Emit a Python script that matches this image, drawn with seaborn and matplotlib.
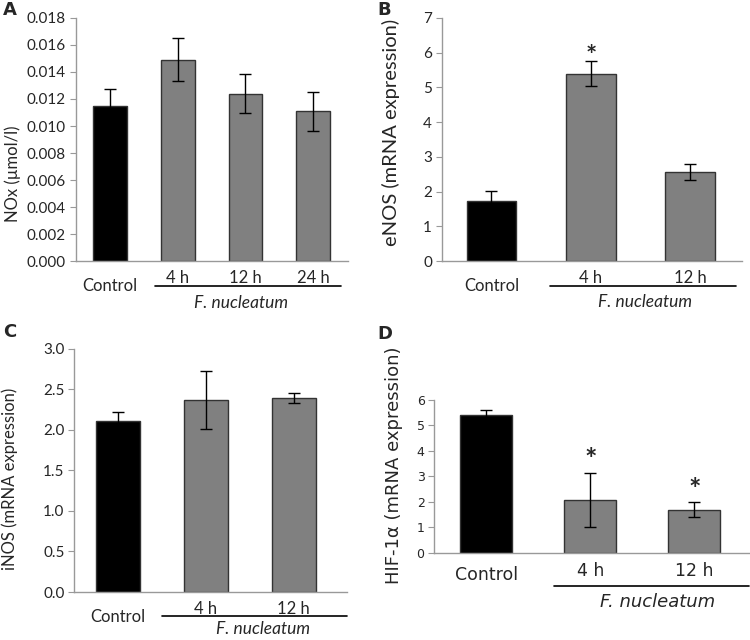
import numpy as np
import pandas as pd
import matplotlib.pyplot as plt
import matplotlib.transforms as mtrans
import seaborn as sns

# Panel data
groups_a = ['Control', '4 h', '12 h', '24 h']
nox = [0.0115, 0.0149, 0.0124, 0.0111]
nox_err = [0.00125, 0.0016, 0.00145, 0.00145]

groups_b = ['Control', '4 h', '12 h']
enos = [1.72, 5.40, 2.56]
enos_err = [0.31, 0.37, 0.23]

groups_c = ['Control', '4 h', '12 h']
inos = [2.11, 2.37, 2.39]
inos_err = [0.11, 0.36, 0.06]

groups_d = ['Control', '4 h', '12 h']
hif = [5.43, 2.07, 1.70]
hif_err = [0.16, 1.06, 0.29]

sns.set_style("white")
plt.rcParams['font.family'] = ['Lato', 'DejaVu Sans']

fig = plt.figure(figsize=(7.5, 6.4), dpi=100)
ax_a = fig.add_axes([0.101, 0.592, 0.363, 0.380])
ax_b = fig.add_axes([0.589, 0.592, 0.400, 0.380])
ax_c = fig.add_axes([0.099, 0.075, 0.364, 0.380])
ax_d = fig.add_axes([0.579, 0.136, 0.419, 0.239])


def panel(ax, groups, vals, errs, ylim, yticks, fmt, ylabel, fs, yfs, lfs,
          xlim, line_x, line_y, txt_x, txt_y, lab_xy, ctrl_drop=6,
          family=None):
    df = pd.DataFrame({'group': groups, 'value': vals})
    pal = ['black'] + ['#808080'] * (len(groups) - 1)
    sns.barplot(data=df, x='group', y='value', hue='group', palette=pal,
                legend=False, width=0.5, edgecolor='#333333', linewidth=1,
                ax=ax, saturation=1)
    ax.errorbar(range(len(groups)), vals, yerr=errs, fmt='none',
                ecolor='black', elinewidth=1, capsize=4, capthick=1)
    ax.set_ylim(*ylim)
    ax.set_xlim(*xlim)
    ax.set_yticks(yticks)
    ax.set_yticklabels([fmt.format(t) for t in yticks], fontsize=fs,
                       family=family)
    ax.set_xticks(range(len(groups)))
    ax.set_xticklabels(groups, fontsize=lfs, family=family)
    ax.set_xlabel('')
    ax.set_ylabel(ylabel, fontsize=yfs, family=family)
    ax.yaxis.set_label_coords(*lab_xy)
    for side in ['top', 'right']:
        ax.spines[side].set_visible(False)
    for side in ['left', 'bottom']:
        ax.spines[side].set_color('#999999')
        ax.spines[side].set_linewidth(1)
    ax.tick_params(axis='y', left=True, length=4, color='#999999', pad=3)
    ax.tick_params(axis='x', bottom=False, pad=3)
    # Control label sits a bit lower than the time labels
    lab = ax.get_xticklabels()[0]
    lab.set_transform(lab.get_transform() + mtrans.ScaledTranslation(
        0, -ctrl_drop / 72, fig.dpi_scale_trans))
    trans = mtrans.blended_transform_factory(ax.transData, ax.transAxes)
    ax.plot(line_x, [line_y, line_y], color='black', lw=1.2,
            transform=trans, clip_on=False)
    ax.text(txt_x, txt_y, 'F. nucleatum', style='italic', fontsize=lfs + 0.5,
            ha='center', va='center', transform=trans, family=family)


panel(ax_a, groups_a, nox, nox_err, (0, 0.018),
      np.arange(0, 0.0181, 0.002), '{:.3f}', 'NOx (µmol/l)', 11, 12, 12,
      (-0.5, 3.51), [0.66, 3.4], -0.103, 1.94, -0.173, (-0.2, 0.36))
panel(ax_b, groups_b, enos, enos_err, (0, 7), range(0, 8), '{:d}',
      'eNOS (mRNA expression)', 11, 14.5, 12, (-0.5, 2.52),
      [0.59, 2.46], -0.103, 1.55, -0.169, (-0.14, 0.53))
panel(ax_c, groups_c, inos, inos_err, (0, 3),
      np.arange(0, 3.01, 0.5), '{:.1f}', 'iNOS (mRNA expression)', 11, 12,
      12, (-0.5, 2.61), [0.5, 2.61], -0.099, 1.65, -0.152, (-0.205, 0.465))
panel(ax_d, groups_d, hif, hif_err, (0, 6), range(0, 7), '{:d}',
      'HIF-1α (mRNA expression)', 9, 13, 12.5, (-0.5, 2.52),
      [0.65, 2.52], -0.216, 1.65, -0.32, (-0.10, 0.575), ctrl_drop=3,
      family='DejaVu Sans')

# significance markers
ax_b.text(1, 5.55, '*', ha='center', va='bottom', fontsize=19,
          fontweight='bold')
ax_d.text(1, 3.12, '*', ha='center', va='bottom', fontsize=21,
          fontweight='bold')
ax_d.text(2, 1.97, '*', ha='center', va='bottom', fontsize=21,
          fontweight='bold')

# panel letters
for x, y, s in [(0.004, 0.985, 'A'), (0.503, 0.985, 'B'),
                (0.004, 0.482, 'C'), (0.503, 0.478, 'D')]:
    fig.text(x, y, s, fontsize=13, fontweight='bold', ha='left', va='center',
             family='DejaVu Sans')

fig.savefig('out.png', dpi=100)
